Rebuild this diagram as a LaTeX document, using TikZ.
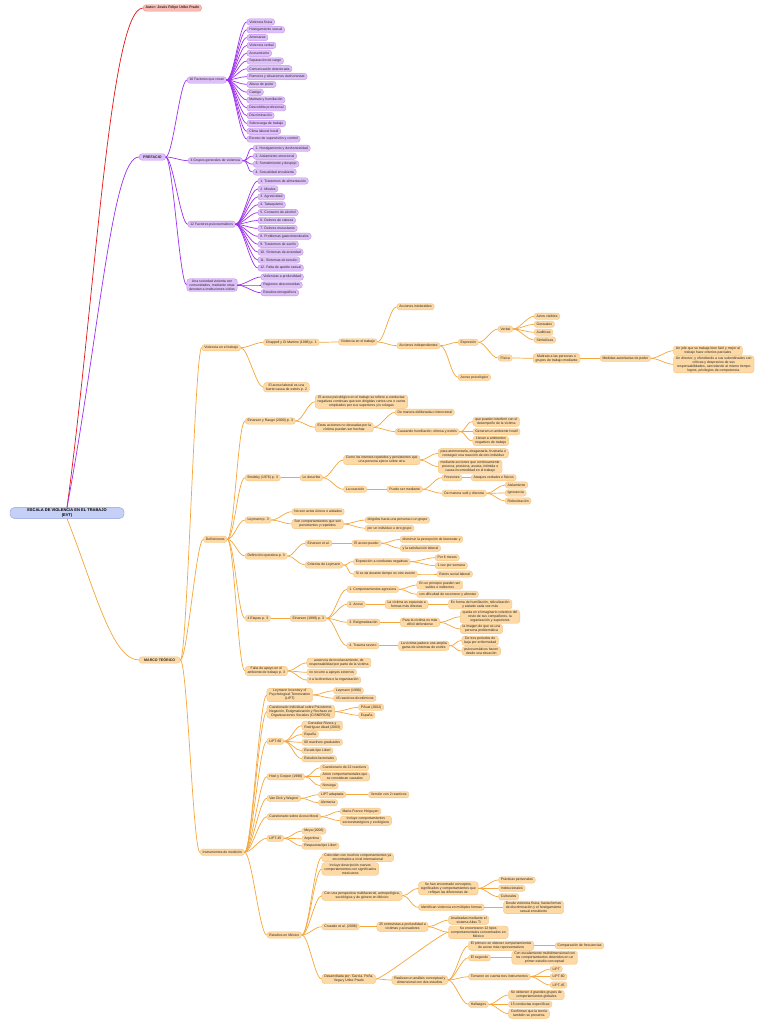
\documentclass[tikz,border=0pt]{standalone}
\usepackage{fontspec}
\setmainfont{Liberation Sans}
\usetikzlibrary{positioning}
\definecolor{LineOrange}{RGB}{246,166,58}
\definecolor{FillOrange}{RGB}{253,217,166}
\definecolor{EdgeOrange}{RGB}{245,194,126}
\definecolor{LinePurple}{RGB}{158,48,238}
\definecolor{FillPurple}{RGB}{222,192,248}
\definecolor{EdgePurple}{RGB}{194,138,238}
\definecolor{LineRed}{RGB}{226,24,24}
\definecolor{FillRed}{RGB}{248,186,178}
\definecolor{EdgeRed}{RGB}{236,142,132}
\definecolor{FillBlue}{RGB}{198,208,247}
\definecolor{EdgeBlue}{RGB}{140,158,222}
\definecolor{InkGray}{RGB}{40,40,40}

\tikzset{
	mapbox/.style={anchor=west, rounded corners=2.8pt, inner xsep=2.4pt, inner ysep=1.1pt,
		minimum height=6.4pt, align=center, text=InkGray, line width=0.35pt,
		font=\fontsize{3.45}{3.9}\selectfont},
	obox/.style={mapbox, draw=EdgeOrange, fill=FillOrange},
	pbox/.style={mapbox, draw=EdgePurple, fill=FillPurple},
	oline/.style={draw=LineOrange, line width=0.7pt},
	pline/.style={draw=LinePurple, line width=0.7pt},
	curvelink/.style={out=0, in=180, distance=7pt},
}

\begin{document}
\begin{tikzpicture}[x=1pt, y=-1pt]
	\useasboundingbox[fill=white] (0,0) rectangle (768,1024);

	% centro
	\node[draw=EdgeBlue, fill=FillBlue, rounded corners=4pt, align=center, line width=0.4pt,
		minimum width=114pt, inner ysep=1.2pt, font=\fontsize{4}{4.6}\selectfont\bfseries]
		(root) at (67,513) {ESCALA DE VIOLENCIA EN EL TRABAJO\\(EVT)};

	\node[mapbox, draw=EdgeRed, fill=FillRed, font=\fontsize{3.5}{4}\selectfont\bfseries] (autor) at (143,8) {Autor: Jesús Felipe Uribe Prado};
	\node[pbox, font=\fontsize{3.6}{4.1}\selectfont\bfseries, inner xsep=4pt] (pref) at (139,157) {PREFACIO};
	\node[obox, font=\fontsize{3.6}{4.1}\selectfont\bfseries, inner xsep=5pt] (marco) at (139,660) {MARCO TEÓRICO};

	\draw[draw=LineRed, line width=0.7pt] (root.north) .. controls (95,300) and (110,8) .. (autor.west);
	\draw[pline] (root.north) .. controls (100,330) and (112,157) .. (pref.west);
	\draw[oline] (root.south) .. controls (95,590) and (112,660) .. (marco.west);

	% prefacio
	\node[pbox] (p16) at (187,80) {16 Factores que crean};
	\foreach \t [count=\i] in {Violencia física, Hostigamiento sexual, Amenazas, Violencia verbal,
		Acosamiento, Separación de cargo, Comunicación deteriorada, Rumores y situaciones deshonestas,
		Abuso de poder, Castigo, Maltrato y humillación, Descrédito profesional, Discriminación,
		Sobrecarga de trabajo, Clima laboral hostil, Exceso de supervisión y control}
		\node[pbox] (f\i) at (246.7,{14.2+7.8*\i}) {\t};

	\node[pbox] (p4) at (188,160.7) {4 Grupos generales de violencia};
	\foreach \t [count=\i] in {1. Hostigamiento y deshonestidad, 2. Aislamiento emocional,
		3. Sometimiento y despojo, 4. Sexualidad encubierta}
		\node[pbox] (g\i) at (253,{140.4+7.9*\i}) {\t};

	\node[pbox] (p12) at (187.7,224.3) {12 Factores psicosomáticos};
	\foreach \t [count=\i] in {1. Trastornos de alimentación, 2. Miedos, 3. Agresividad, 4. Tabaquismo,
		5. Consumo de alcohol, 6. Dolores de cabeza, 7. Dolores musculares, 8. Problemas gastrointestinales,
		9. Trastornos de sueño, 10. Síntomas de ansiedad, 11. Síntomas de tensión, 12. Falta de apetito sexual}
		\node[pbox] (s\i) at (257.7,{173.1+7.9*\i}) {\t};

	\node[pbox] (psoc) at (186.7,285) {Una sociedad violenta con\\comunidades, mediante otras\\denotan a instituciones civiles};
	\node[pbox] (c1) at (260.7,277) {Violencias a profundidad};
	\node[pbox] (c2) at (260.7,285) {Regiones desconocidas};
	\node[pbox] (c3) at (260.7,292.7) {Estudios etnográficos};

	\foreach \a/\b in {pref/p16, pref/p4, pref/p12, pref/psoc, psoc/c1, psoc/c2, psoc/c3}
		\draw[pline] (\a.east) to[curvelink] (\b.west);
	\foreach \i in {1,...,16}
		\draw[pline] (p16.east) to[curvelink] (f\i.west);
	\foreach \i in {1,...,4}
		\draw[pline] (p4.east) to[curvelink] (g\i.west);
	\foreach \i in {1,...,12}
		\draw[pline] (p12.east) to[curvelink] (s\i.west);

	% violencia en el trabajo
	\node[obox] (vt) at (201.7,347.7) {Violencia en el trabajo};
	\node[obox] (chap) at (263.3,342.3) {Chappell y Di Martino (1998) p. 1};
	\node[obox] (acl) at (263.3,387.3) {El acoso laboral es una\\fuerte causa de estrés p. 2};
	\node[obox] (vt2) at (338.3,342) {Violencia en el trabajo};
	\node[obox] (aint) at (396.7,306.7) {Acciones intolerables};
	\node[obox] (aind) at (396.7,345.7) {Acciones independientes};
	\node[obox] (expr) at (458,342.3) {Expresión};
	\node[obox] (acps) at (458,377.3) {Acoso psicológico};
	\node[obox] (verb) at (498,329) {Verbal};
	\node[obox] (fis) at (498,358) {Física};
	\node[obox] (v1) at (534,316.3) {Actos visibles};
	\node[obox] (v2) at (534,324.3) {Gestuales};
	\node[obox] (v3) at (534,332.3) {Auditivas};
	\node[obox] (v4) at (534,340) {Simbólicas};
	\node[obox] (malt) at (533,358.3) {Maltrato a las personas o\\grupos de trabajo mediante};
	\node[obox] (med) at (600,358.3) {Medidas autoritarias de poder};
	\node[obox] (un1) at (673.3,350.7) {Un jefe que se trabaja bien fácil y mejor al\\trabajo hace criterios parciales};
	\node[obox] (un2) at (673.3,364.3) {Un director, y ofendiendo a sus subordinados con\\críticas y desprecios de sus\\responsabilidades, cancelando al mismo tiempo\\logros, privilegios de competencia.};

	% definiciones
	\node[obox] (def) at (203.3,539.3) {Definiciones};
	\node[obox] (ein) at (245,421) {Einarsen y Raugo (2000) p. 3};
	\node[obox] (eac) at (315,401.7) {El acoso psicológico en el trabajo se refiere a conductas\\negativas continuas que son dirigidas contra uno o varios\\empleados por sus superiores y/o colegas};
	\node[obox] (eas) at (315,427.3) {Estas acciones no deseadas por la\\víctima pueden ser hechas:};
	\node[obox] (delib) at (395,412.3) {De manera deliberada o intencional};
	\node[obox] (caus) at (395,431.7) {Causando humillación, ofensa y estrés};
	\node[obox] (ca1) at (472.7,421.7) {que pueden interferir con el\\desempeño de la víctima};
	\node[obox] (ca2) at (472.7,431.7) {Generan un ambiente hostil};
	\node[obox] (ca3) at (472.7,441) {Llevan a ambientes\\negativos de trabajo};

	\node[obox] (bro) at (245,477.7) {Brodsky (1976) p. 3};
	\node[obox] (lod) at (300,477.7) {Lo describe};
	\node[obox] (com) at (343.3,460) {Como los intentos repetidos y persistentes que\\una persona ejerce sobre otra};
	\node[obox] (coa) at (343.3,489.3) {La coacción};
	\node[obox] (pue) at (386.7,489.3) {Puede ser mediante};
	\node[obox] (pat) at (438,453.3) {para atormentarla, desgastarla, frustrarla o\\conseguir una reacción de otro individuo};
	\node[obox] (mac) at (438,466.7) {mediante acciones que continuamente\\provoca, presiona, asusta, intimida o\\causa incomodidad en el trabajo};
	\node[obox] (pres) at (441.7,477.7) {Presiones};
	\node[obox] (sut) at (441.7,493.3) {De manera sutil y discreta};
	\node[obox] (atq) at (471,477.7) {Ataques verbales o físicos};
	\node[obox] (ais) at (505,485) {Aislamiento};
	\node[obox] (ign) at (505,493) {Ignorancia};
	\node[obox] (rid) at (505,501) {Ridiculización};

	\node[obox] (ley) at (245,520) {Leymann p. 3};
	\node[obox] (nos) at (291.7,511.7) {No son actos únicos o aislados};
	\node[obox] (son) at (291.7,524) {Son comportamientos que son\\persistentes y repetidos};
	\node[obox] (dir) at (365,520) {dirigidos hacia una persona o un grupo};
	\node[obox] (pun) at (365,528.3) {por un individuo u otro grupo};

	\node[obox] (dop) at (245,556) {Definición operativa p. 3};
	\node[obox] (eet) at (305,543.3) {Einarsen et al.};
	\node[obox] (eap) at (351.7,543.3) {El acoso puede:};
	\node[obox] (dis) at (400,539.3) {disminuir la percepción de bienestar y};
	\node[obox] (ysa) at (400,548.3) {y la satisfacción laboral};
	\node[obox] (cri) at (305,565) {Criterios de Leymann};
	\node[obox] (expo) at (353.3,561.7) {Exposición a conductas negativas};
	\node[obox] (p6m) at (435,557.7) {Por 6 meses};
	\node[obox] (vez) at (435,565.7) {1 vez por semana};
	\node[obox] (sis) at (353.3,574) {Si se da durante tiempo es otro evento};
	\node[obox] (est) at (436.7,574) {Estrés social laboral};

	\node[obox] (eta) at (245,618.3) {4 Etapas p. 3};
	\node[obox] (ein99) at (290,618.3) {Einarsen (1999) p. 3};
	\node[obox] (e1) at (346.7,589.3) {1. Comportamientos agresivos};
	\node[obox] (e1a) at (416.7,585) {En un principio pueden ser\\sutiles e indirectos};
	\node[obox] (e1b) at (416.7,594.3) {con dificultad de reconocer y afrontar};
	\node[obox] (e2) at (346.7,604.3) {2. Acoso};
	\node[obox] (e2a) at (385,604.3) {La víctima es expuesta a\\formas más directas};
	\node[obox] (e2b) at (448.3,604.3) {En forma de humillación, ridiculización\\y aislado cada vez más};
	\node[obox] (e3) at (346.7,622.3) {3. Estigmatización};
	\node[obox] (e3a) at (400,622.3) {Para la víctima es más\\difícil defenderse};
	\node[obox] (e3b) at (460,616.7) {queda en el imaginario colectivo del\\resto de sus compañeros, la\\organización y superiores};
	\node[obox] (e3c) at (460,629) {la imagen de que es una\\persona problemática};
	\node[obox] (e4) at (346.7,645.7) {4. Trauma severo};
	\node[obox] (e4a) at (398.3,645.7) {La víctima padece una amplia\\gama de síntomas de estrés};
	\node[obox] (e4b) at (461.7,640.7) {De tres periodos de\\baja por enfermedad};
	\node[obox] (e4c) at (461.7,651) {psicosomáticos hacen\\desde una situación};

	\node[obox] (fal) at (245,671) {Falta de apoyo en el\\ambiente de trabajo p. 3};
	\node[obox] (fa1) at (306.7,662.7) {ausencia de involucramiento, de\\responsabilidad por parte de la víctima};
	\node[obox] (fa2) at (306.7,672.3) {no recurre a apoyos externos};
	\node[obox] (fa3) at (306.7,680) {o a la directiva o la organización};

	% instrumentos
	\node[obox] (ins) at (200,852.3) {Instrumentos de medición};
	\node[obox] (lip) at (266.7,695) {Leymann Inventory of\\Psychological Terrorization\\(LIPT)};
	\node[obox] (ley90) at (333.3,690.7) {Leymann (1990)};
	\node[obox] (r45) at (333.3,698.3) {45 reactivos dicotómicos};
	\node[obox] (cis) at (266.7,711.7) {Cuestionario Individual sobre Psicoterror,\\Negación, Estigmatización y Rechazo en\\Organizaciones Sociales (CISNEROS)};
	\node[obox] (pin) at (358.3,707.3) {Piñuel (2002)};
	\node[obox] (esp1) at (358.3,715.3) {España};
	\node[obox] (l60) at (266.7,741.3) {LIPT-60};
	\node[obox] (gon) at (301.7,725.7) {González Rivera y\\Rodríguez Abad (2003)};
	\node[obox] (esp2) at (301.7,734.3) {España};
	\node[obox] (r60) at (301.7,742.3) {60 reactivos graduados};
	\node[obox] (lik1) at (301.7,750.7) {Escala tipo Likert};
	\node[obox] (fac) at (301.7,758.7) {Estudios factoriales};
	\node[obox] (hoe) at (266.7,776.7) {Hoel y Cooper (1998)};
	\node[obox] (c22) at (320,767.7) {Cuestionario de 22 reactivos};
	\node[obox] (act) at (320,776.7) {Actos comportamentales que\\se consideran causales};
	\node[obox] (nor) at (320,785.7) {Noruega};
	\node[obox] (van) at (266.7,798.3) {Van Dick y Wagner};
	\node[obox] (lad) at (318.3,794.7) {LIPT adaptada};
	\node[obox] (ver) at (368.3,794.7) {Versión con 2 reactivos};
	\node[obox] (ale) at (318.3,802.7) {Alemania};
	\node[obox] (cam) at (266.7,816.7) {Cuestionario sobre Acoso Moral};
	\node[obox] (mfh) at (340,811.3) {Marie-France Hirigoyen};
	\node[obox] (inc) at (340,820.7) {Incluye comportamientos\\socioestratégicos y ecológicos};
	\node[obox] (l45) at (266.7,838.3) {LIPT-45};
	\node[obox] (mey) at (301.7,831) {Meya (2006)};
	\node[obox] (arg) at (301.7,838.7) {Argentina};
	\node[obox] (lik2) at (301.7,846) {Respuesta tipo Likert};

	% estudios en mexico
	\node[obox] (mex) at (266.7,935) {Estudios en México};
	\node[obox] (coi) at (321.7,857.3) {Coinciden con muchos comportamientos ya\\encontrados a nivel internacional};
	\node[obox] (incd) at (321.7,869) {Incluye descripción nuevos\\comportamientos con significados\\mexicanos};
	\node[obox] (per) at (321.7,895.7) {Con una perspectiva multifactorial, antropológica,\\sociológica y de género en México};
	\node[obox] (sha) at (418.3,888.3) {Se han encontrado conceptos,\\significados y comportamientos que\\reflejan las diferencias de};
	\node[obox] (pra) at (498.3,880) {Prácticas personales};
	\node[obox] (ins2) at (498.3,888.3) {Institucionales};
	\node[obox] (cul) at (498.3,896.7) {Culturales};
	\node[obox] (ide) at (418.3,907.3) {Identifican violencia en múltiples formas};
	\node[obox] (des) at (503.3,907.3) {Desde violencia física, hasta formas\\de discriminación y el hostigamiento\\sexual encubierto};
	\node[obox] (cru) at (321.7,926.7) {Cruzado et al. (2008)};
	\node[obox] (ent) at (376.7,926.7) {25 entrevistas a profundidad a\\víctimas y acosadores};
	\node[obox] (ana) at (448.3,920) {Analizadas mediante el\\sistema Atlas Ti};
	\node[obox] (enc) at (448.3,932.3) {Se encontraron 12 tipos\\comportamentales concentrados en\\México};
	\node[obox] (desa) at (321.7,979) {Desarrollada por: García, Peña,\\Vega y Uribe Prado};
	\node[obox] (rea) at (391.7,980) {Realizan un análisis conceptual y\\dimensional con dos estudios};
	\node[obox] (pri) at (468.3,945.7) {El primero en obtener comportamientos\\de acoso más representativos};
	\node[obox] (cfr) at (555,945.7) {Comparación de frecuencias};
	\node[obox] (seg) at (468.3,957.7) {El segundo};
	\node[obox] (cesc) at (511.7,957.7) {Con escalamiento multidimensional con\\los comportamientos obtenidos en un\\primer estudio conceptual};
	\node[obox] (tom) at (468.3,976.7) {Tomaron en cuenta tres instrumentos};
	\node[obox] (t1) at (550,969) {LIPT};
	\node[obox] (t2) at (550,976.7) {LIPT-60};
	\node[obox] (t3) at (550,985) {LIPT-45};
	\node[obox] (hal) at (468.3,1004.3) {Hallazgos};
	\node[obox] (h1) at (508.3,995) {Se obtienen 4 grandes grupos de\\comportamientos globales};
	\node[obox] (h2) at (508.3,1004.3) {15 conductas específicas};
	\node[obox] (h3) at (508.3,1013.7) {Confirman que la teoría\\también se presenta};

	\foreach \a/\b in {marco/vt, marco/def, marco/ins,
		vt/chap, vt/acl, chap/vt2, vt2/aint, vt2/aind, aind/expr, aind/acps, expr/verb, expr/fis,
		verb/v1, verb/v2, verb/v3, verb/v4, fis/malt, malt/med, med/un1, med/un2,
		def/ein, def/bro, def/ley, def/dop, def/eta, def/fal,
		ein/eac, ein/eas, eas/delib, eas/caus, caus/ca1, caus/ca2, caus/ca3,
		bro/lod, lod/com, lod/coa, com/pat, com/mac, coa/pue, pue/pres, pue/sut, pres/atq,
		sut/ais, sut/ign, sut/rid,
		ley/nos, ley/son, son/dir, son/pun,
		dop/eet, dop/cri, eet/eap, eap/dis, eap/ysa, cri/expo, cri/sis, expo/p6m, expo/vez, sis/est,
		eta/ein99, ein99/e1, ein99/e2, ein99/e3, ein99/e4, e1/e1a, e1/e1b, e2/e2a, e2a/e2b,
		e3/e3a, e3a/e3b, e3a/e3c, e4/e4a, e4a/e4b, e4a/e4c,
		fal/fa1, fal/fa2, fal/fa3,
		ins/lip, ins/cis, ins/l60, ins/hoe, ins/van, ins/cam, ins/l45, ins/mex,
		lip/ley90, lip/r45, cis/pin, cis/esp1, l60/gon, l60/esp2, l60/r60, l60/lik1, l60/fac,
		hoe/c22, hoe/act, hoe/nor, van/lad, van/ale, lad/ver, cam/mfh, cam/inc,
		l45/mey, l45/arg, l45/lik2,
		mex/coi, mex/incd, mex/per, mex/cru, mex/desa, per/sha, per/ide, sha/pra, sha/ins2, sha/cul,
		ide/des, cru/ent, ent/ana, ent/enc, desa/enc, desa/rea, rea/pri, rea/seg, rea/tom, rea/hal,
		pri/cfr, seg/cesc, tom/t1, tom/t2, tom/t3, hal/h1, hal/h2, hal/h3}
		\draw[oline] (\a.east) to[curvelink] (\b.west);
\end{tikzpicture}
\end{document}
